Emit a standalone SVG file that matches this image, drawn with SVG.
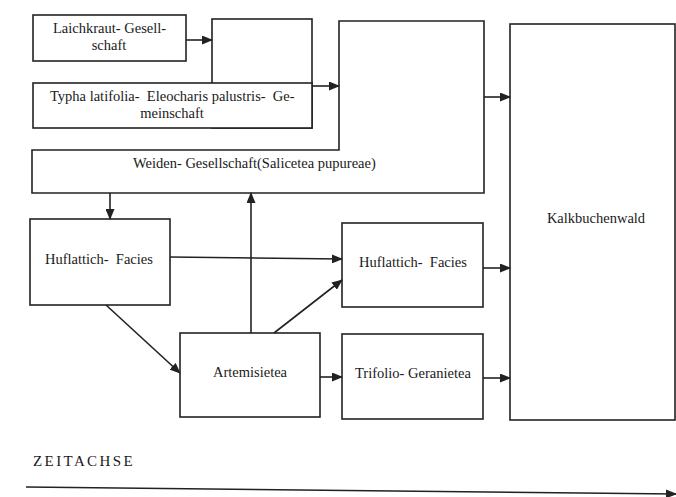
<svg xmlns="http://www.w3.org/2000/svg" width="676" height="497" viewBox="0 0 676 497">
<style>
.box{fill:#fff;stroke:#222;stroke-width:1.6}
.t{font-family:"Liberation Serif","Times New Roman",serif;font-size:14.5px;fill:#1a1a1a;white-space:pre}
.c{fill:none;stroke:#222;stroke-width:1.6}
</style>
<defs>
<marker id="ah" markerUnits="userSpaceOnUse" markerWidth="11" markerHeight="9" refX="10" refY="4.5" orient="auto">
<path d="M0,0 L11,4.5 L0,9 z" fill="#222"/>
</marker>
</defs>
<rect width="676" height="497" fill="#fff"/>
<g id="middle-box"><rect class="box" x="212" y="19" width="100" height="109"/></g>
<g id="laichkraut"><rect class="box" x="33" y="15" width="153" height="46"/>
<text class="t" x="53" y="33">Laichkraut- Gesell-</text>
<text class="t" x="109" y="50" text-anchor="middle">schaft</text></g>
<g id="typha"><rect class="box" x="33" y="83" width="279" height="45"/>
<text class="t" x="50" y="101">Typha latifolia-  Eleocharis palustris-  Ge-</text>
<text class="t" x="172" y="118" text-anchor="middle">meinschaft</text></g>
<g id="weiden"><path class="box" d="M32,150 H339 V21 H484 V193 H32 Z"/>
<text class="t" x="133" y="168">Weiden- Gesellschaft(Salicetea pupureae)</text></g>
<g id="kalkbuchenwald"><rect class="box" x="510" y="24" width="165" height="396"/>
<text class="t" x="596" y="223" text-anchor="middle">Kalkbuchenwald</text></g>
<g id="huflattich1"><rect class="box" x="30" y="219" width="140" height="86"/>
<text class="t" x="45" y="264">Huflattich-  Facies</text></g>
<g id="huflattich2"><rect class="box" x="342" y="223" width="141" height="84"/>
<text class="t" x="359" y="267">Huflattich-  Facies</text></g>
<g id="artemisietea"><rect class="box" x="180" y="333" width="140" height="84"/>
<text class="t" x="250" y="377" text-anchor="middle">Artemisietea</text></g>
<g id="trifolio"><rect class="box" x="342" y="334" width="141" height="85"/>
<text class="t" x="355" y="378">Trifolio- Geranietea</text></g>
<g id="connectors">
<path class="c" d="M186,40 H212" marker-end="url(#ah)"/>
<path class="c" d="M312,86 H339" marker-end="url(#ah)"/>
<path class="c" d="M484,97 H510" marker-end="url(#ah)"/>
<path class="c" d="M110,193 V219" marker-end="url(#ah)"/>
<path class="c" d="M170,257 L342,259" marker-end="url(#ah)"/>
<path class="c" d="M106,305 L180,373" marker-end="url(#ah)"/>
<path class="c" d="M251,333 V193" marker-end="url(#ah)"/>
<path class="c" d="M274,333 L342,280" marker-end="url(#ah)"/>
<path class="c" d="M320,377 H342" marker-end="url(#ah)"/>
<path class="c" d="M483,268 H510" marker-end="url(#ah)"/>
<path class="c" d="M483,378 H510" marker-end="url(#ah)"/>
<path class="c" d="M26,487 L676,494" marker-end="url(#ah)" stroke-width="2"/>
</g>
<text class="t" x="33" y="466" style="font-size:15px;letter-spacing:2.4px">ZEITACHSE</text>
</svg>
